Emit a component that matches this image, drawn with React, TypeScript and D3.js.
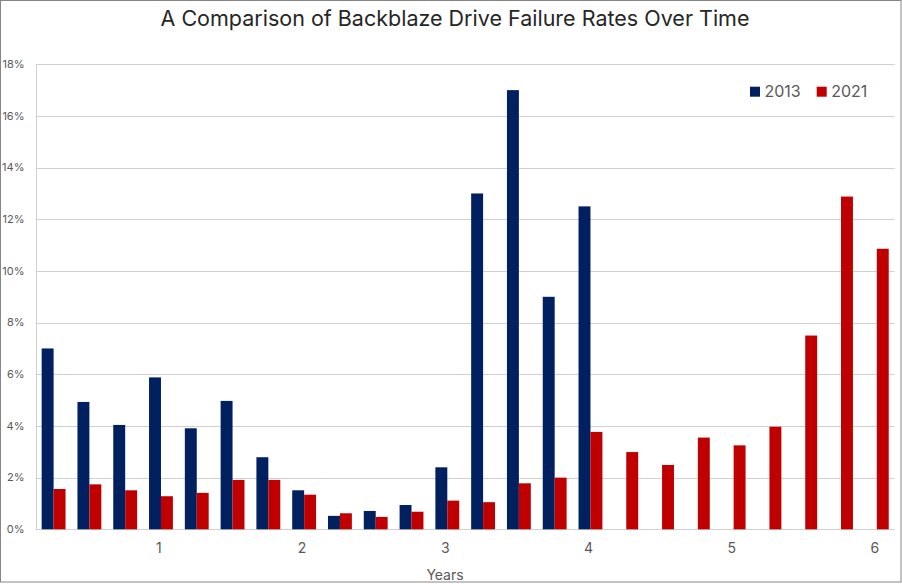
import React, { useRef, useEffect } from 'react';
import * as d3 from 'd3';

// quarters of drive age, in years
const quarters = [
    '0.25', '0.5', '0.75', '1',
    '1.25', '1.5', '1.75', '2',
    '2.25', '2.5', '2.75', '3',
    '3.25', '3.5', '3.75', '4',
    '4.25', '4.5', '4.75', '5',
    '5.25', '5.5', '5.75', '6',
];
const yearTicks = ['1', '2', '3', '4', '5', '6'];
const series = ['2013', '2021'];

// failure rate in %, null = no drives that old yet
const rate2013 = [
    7.0, 4.93, 4.04, 5.88, 3.91, 4.97, 2.79, 1.51,
    0.52, 0.71, 0.94, 2.4, 13.0, 17.0, 9.0, 12.5,
    null, null, null, null, null, null, null, null,
];
const rate2021 = [
    1.56, 1.74, 1.51, 1.28, 1.41, 1.91, 1.91, 1.34,
    0.62, 0.48, 0.68, 1.11, 1.05, 1.78, 2.0, 3.77,
    2.99, 2.49, 3.55, 3.25, 3.97, 7.5, 12.88, 10.86,
];
const yTicks = [0, 2, 4, 6, 8, 10, 12, 14, 16, 18];

const colors: { [k: string]: string } = { '2013': '#002060', '2021': '#c00000' };
const FONT = 'Inter, "Noto Sans", sans-serif';

export default function App() {
    const svgRef: { current: SVGSVGElement | null } = useRef(null);
    const width = 902;
    const height = 584;

    useEffect(() => {
        document.body.style.margin = '0';
        const svg = d3.select(svgRef.current);
        svg.selectAll('*').remove();

        const left = 35.7;
        const right = 894.7;
        const top = 64.3;
        const bottom = 529.3;

        const x0 = d3.scaleBand().domain(quarters).range([left, right]);
        const x1 = d3
            .scaleBand()
            .domain(series)
            .range([0, x0.bandwidth()])
            .paddingInner(0)
            .paddingOuter(0.5);
        const y = d3.scaleLinear().domain([0, 18]).range([bottom, top]);

        // outer border
        svg.append('rect')
            .attr('x', 0.5)
            .attr('y', 0.5)
            .attr('width', 900.5)
            .attr('height', 581.5)
            .attr('fill', '#fff')
            .attr('stroke', '#868686');

        // title
        svg.append('text')
            .attr('x', 455)
            .attr('y', 26)
            .attr('text-anchor', 'middle')
            .attr('font-family', FONT)
            .attr('font-size', 21.5)
            .attr('fill', '#262626')
            .text('A Comparison of Backblaze Drive Failure Rates Over Time');

        // gridlines
        svg.selectAll('.grid')
            .data(yTicks)
            .join('line')
            .attr('class', 'grid')
            .attr('x1', left)
            .attr('x2', right)
            .attr('y1', (d) => Math.round(y(d)) + 0.5)
            .attr('y2', (d) => Math.round(y(d)) + 0.5)
            .attr('stroke', '#d0d0d0');

        svg.append('line')
            .attr('x1', Math.round(left) + 0.5)
            .attr('x2', Math.round(left) + 0.5)
            .attr('y1', y(18))
            .attr('y2', y(0))
            .attr('stroke', '#d0d0d0');

        // y labels
        svg.selectAll('.ylab')
            .data(yTicks)
            .join('text')
            .attr('class', 'ylab')
            .attr('x', 24.5)
            .attr('y', (d) => y(d))
            .attr('dy', '0.35em')
            .attr('text-anchor', 'end')
            .attr('font-family', FONT)
            .attr('font-size', 11)
            .attr('fill', '#595959')
            .text((d) => `${d}%`);

        // bars
        const rows = quarters.map((q, i) => ({ q, values: [rate2013[i], rate2021[i]] }));
        const groups = svg
            .selectAll('.group')
            .data(rows)
            .join('g')
            .attr('class', 'group')
            .attr('transform', (d) => `translate(${x0(d.q)},0)`);

        groups
            .selectAll('rect')
            .data((d) => series.map((s, i) => ({ s, v: d.values[i] })).filter((e) => e.v != null))
            .join('rect')
            .attr('x', (d) => x1(d.s) as number)
            .attr('width', x1.bandwidth())
            .attr('y', (d) => y(d.v as number))
            .attr('height', (d) => y(0) - y(d.v as number))
            .attr('fill', (d) => colors[d.s]);

        // x labels
        svg.selectAll('.xlab')
            .data(yearTicks)
            .join('text')
            .attr('class', 'xlab')
            .attr('x', (d) => (x0(d) as number) + x0.bandwidth() / 2 - 2)
            .attr('y', 553)
            .attr('text-anchor', 'middle')
            .attr('font-family', FONT)
            .attr('font-size', 14)
            .attr('fill', '#595959')
            .text((d) => d);

        svg.append('text')
            .attr('x', 445)
            .attr('y', 580)
            .attr('text-anchor', 'middle')
            .attr('font-family', FONT)
            .attr('font-size', 14)
            .attr('fill', '#595959')
            .text('Years');

        // legend
        const legend = svg
            .selectAll('.legend')
            .data(series)
            .join('g')
            .attr('class', 'legend')
            .attr('transform', (d, i) => `translate(${750 + i * 66.7},86.7)`);
        legend
            .append('rect')
            .attr('width', 10)
            .attr('height', 10)
            .attr('fill', (d) => colors[d]);
        legend
            .append('text')
            .attr('x', 14.5)
            .attr('y', 5)
            .attr('dy', '0.36em')
            .attr('font-family', FONT)
            .attr('font-size', 16)
            .attr('fill', '#595959')
            .text((d) => d);
    }, []);

    return (
        <div style={{ position: 'absolute', left: 0, top: 0 }}>
            <svg ref={svgRef} width={width} height={height}></svg>
        </div>
    );
}
